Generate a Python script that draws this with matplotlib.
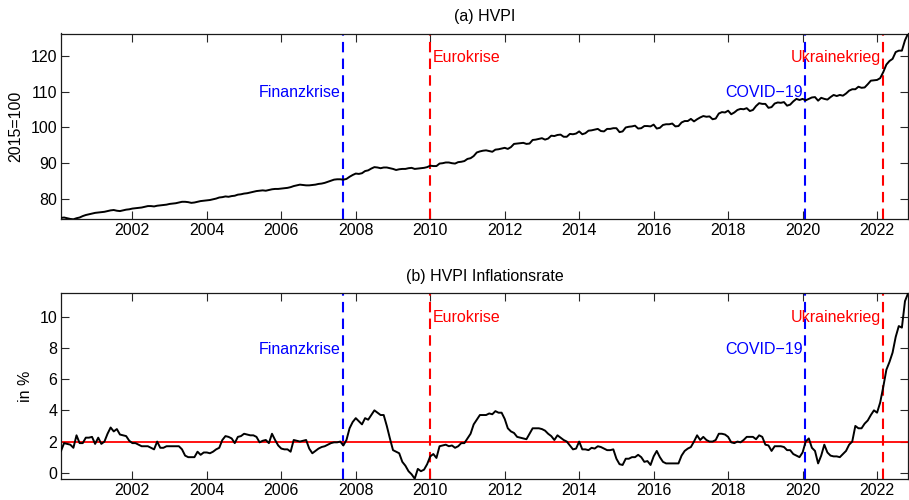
import numpy as np
import matplotlib.pyplot as plt

plt.rcParams['font.family'] = ['Liberation Sans', 'DejaVu Sans']
plt.rcParams['font.size'] = 11.5

# monthly values, Jan 2000 .. Oct 2022
hvpi = [
    74.7, 74.8, 74.6, 74.4, 74.3, 74.6, 74.8, 75.2, 75.5, 75.7, 75.9, 76.1,   # 2000
    76.2, 76.3, 76.4, 76.6, 76.8, 76.9, 76.7, 76.6, 76.8, 77.0, 77.1, 77.3,   # 2001
    77.4, 77.5, 77.6, 77.8, 78.0, 78.0, 77.9, 78.1, 78.2, 78.3, 78.4, 78.6,   # 2002
    78.7, 78.8, 79.0, 79.2, 79.2, 79.1, 78.9, 79.0, 79.2, 79.4, 79.5, 79.6,   # 2003
    79.7, 79.9, 80.1, 80.4, 80.5, 80.7, 80.6, 80.8, 80.9, 81.2, 81.3, 81.5,   # 2004
    81.6, 81.8, 82.0, 82.2, 82.3, 82.4, 82.3, 82.5, 82.7, 82.8, 82.8, 82.9,   # 2005
    83.0, 83.1, 83.3, 83.6, 83.8, 84.0, 83.9, 83.8, 83.8, 83.9, 84.0, 84.2,   # 2006
    84.3, 84.5, 84.8, 85.1, 85.4, 85.5, 85.5, 85.4, 85.6, 86.2, 86.7, 87.1,   # 2007
    87.0, 87.2, 87.8, 88.0, 88.5, 88.9, 88.8, 88.6, 88.8, 88.8, 88.6, 88.4,   # 2008
    88.1, 88.3, 88.4, 88.4, 88.6, 88.7, 88.4, 88.5, 88.6, 88.7, 88.9, 89.3,   # 2009
    89.2, 89.2, 89.9, 90.0, 90.2, 90.2, 90.0, 89.9, 90.3, 90.4, 90.6, 91.2,   # 2010
    91.4, 92.0, 93.0, 93.3, 93.5, 93.6, 93.4, 93.2, 93.8, 93.9, 94.1, 94.3,   # 2011
    94.0, 94.5, 95.4, 95.5, 95.6, 95.7, 95.4, 95.5, 96.5, 96.6, 96.8, 97.0,   # 2012
    96.6, 96.9, 97.7, 97.6, 97.9, 98.0, 97.4, 97.4, 98.2, 98.1, 98.3, 98.9,   # 2013
    98.1, 98.4, 99.1, 99.2, 99.4, 99.6, 99.0, 98.9, 99.6, 99.6, 99.8, 99.8,   # 2014
    98.7, 98.9, 100.0, 100.2, 100.3, 100.5, 99.7, 99.8, 100.4, 100.4, 100.3, 100.8,   # 2015
    99.7, 99.9, 100.7, 100.9, 100.9, 101.1, 100.3, 100.4, 101.4, 101.8, 101.8, 102.4,  # 2016
    101.7, 102.3, 102.8, 103.2, 103.0, 103.1, 102.3, 102.5, 103.9, 104.3, 104.2, 104.7,  # 2017
    103.7, 104.2, 104.9, 105.2, 105.1, 105.4, 104.6, 104.9, 106.0, 106.8, 106.6, 106.6,  # 2018
    105.5, 105.7, 106.7, 107.0, 106.9, 107.1, 106.1, 106.4, 107.3, 108.0, 107.7, 108.0,  # 2019
    107.6, 108.0, 108.4, 108.5, 107.5, 108.3, 108.0, 107.8, 108.5, 109.1, 108.8, 109.1,  # 2020
    108.9, 109.5, 110.3, 110.7, 110.7, 111.4, 111.1, 111.2, 112.1, 113.1, 113.2, 113.3,  # 2021
    113.8, 115.5, 117.6, 118.6, 119.2, 121.1, 121.5, 121.5, 124.4, 126.3,               # 2022
]

inflation = [
    1.4, 1.9, 1.85, 1.8, 1.6, 2.4, 1.9, 1.9, 2.25, 2.25, 2.3, 1.85,       # 2000
    2.25, 1.85, 2.0, 2.5, 2.9, 2.65, 2.8, 2.45, 2.4, 2.35, 2.05, 1.9,     # 2001
    1.9, 1.8, 1.7, 1.7, 1.7, 1.6, 1.5, 2.0, 1.6, 1.6, 1.7, 1.7,           # 2002
    1.7, 1.7, 1.7, 1.5, 1.1, 1.0, 1.0, 1.0, 1.35, 1.15, 1.3, 1.3,         # 2003
    1.25, 1.35, 1.5, 1.6, 2.1, 2.35, 2.3, 2.2, 1.9, 2.3, 2.35, 2.5,       # 2004
    2.45, 2.4, 2.4, 2.3, 1.95, 2.05, 2.1, 1.9, 2.5, 2.1, 1.75, 1.55,      # 2005
    1.5, 1.5, 1.35, 2.1, 2.05, 2.0, 2.05, 2.1, 1.55, 1.25, 1.4, 1.55,     # 2006
    1.65, 1.7, 1.8, 1.9, 1.95, 1.95, 2.0, 1.75, 2.1, 2.85, 3.25, 3.5,     # 2007
    3.3, 3.1, 3.5, 3.4, 3.7, 4.0, 3.85, 3.7, 3.7, 3.0, 2.2, 1.45,         # 2008
    1.35, 1.25, 0.7, 0.45, 0.1, -0.1, -0.38, 0.25, 0.1, 0.2, 0.55, 1.05,  # 2009
    1.2, 0.95, 1.7, 1.75, 1.8, 1.7, 1.75, 1.6, 1.7, 1.9, 1.9, 2.2,        # 2010
    2.5, 3.1, 3.4, 3.7, 3.7, 3.7, 3.8, 3.75, 3.95, 3.85, 3.85, 3.45,      # 2011
    2.85, 2.65, 2.55, 2.3, 2.25, 2.2, 2.15, 2.5, 2.85, 2.85, 2.85, 2.8,   # 2012
    2.7, 2.5, 2.35, 2.1, 2.4, 2.25, 2.1, 2.0, 1.75, 1.5, 1.55, 2.0,       # 2013
    1.5, 1.5, 1.45, 1.6, 1.55, 1.7, 1.65, 1.55, 1.45, 1.45, 1.5, 0.9,     # 2014
    0.55, 0.5, 0.9, 0.9, 1.0, 1.0, 1.15, 1.0, 0.7, 0.75, 0.5, 1.05,       # 2015
    1.4, 1.0, 0.7, 0.6, 0.6, 0.6, 0.6, 0.6, 1.1, 1.4, 1.55, 1.65,         # 2016
    2.0, 2.4, 2.1, 2.3, 2.1, 2.0, 2.0, 2.1, 2.5, 2.5, 2.45, 2.3,          # 2017
    1.95, 1.9, 2.0, 1.95, 2.1, 2.3, 2.3, 2.3, 2.15, 2.4, 2.3, 1.8,        # 2018
    1.75, 1.4, 1.7, 1.7, 1.7, 1.65, 1.45, 1.45, 1.2, 1.1, 1.0, 1.3,       # 2019
    2.0, 2.2, 1.6, 1.4, 0.6, 1.1, 1.8, 1.3, 1.1, 1.05, 1.05, 1.0,         # 2020
    1.2, 1.4, 1.8, 2.0, 3.0, 2.85, 2.85, 3.15, 3.35, 3.7, 4.0, 3.85,      # 2021
    4.5, 5.5, 6.6, 7.1, 7.7, 8.7, 9.4, 9.3, 11.0, 11.5,                   # 2022
]

target_rate = 2

events = ['Finanzkrise', 'Eurokrise', 'COVID\u221219', 'Ukrainekrieg']
event_dates = [2007.66, 2010.0, 2020.07, 2022.16]
event_colors = ['blue', 'red', 'blue', 'red']
event_side = ['left', 'right', 'left', 'left']   # which side of the line the label sits
event_level = ['low', 'high', 'low', 'high']

n = len(hvpi)
t = 2000 + np.arange(1, n + 1) / 12.0

fig = plt.figure(figsize=(9.09, 5.0), dpi=100)
ax1 = fig.add_axes([0.0671, 0.5614, 0.9319, 0.3716])
ax2 = fig.add_axes([0.0671, 0.0426, 0.9319, 0.3708])

panels = [
    (ax1, hvpi, '(a) HVPI', '2015=100', np.arange(80, 121, 10), {'high': 120, 'low': 110}),
    (ax2, inflation, '(b) HVPI Inflationsrate', 'in %', np.arange(0, 11, 2), {'high': 10, 'low': 8}),
]

for ax, y, title, ylab, yt, levels in panels:
    y = np.array(y)
    ax.plot(t, y, color='black', lw=1.4, zorder=3)
    ax.set_xlim(t[0], t[-1])
    ax.set_ylim(y.min(), y.max())
    for name, d, c, side, lev in zip(events, event_dates, event_colors, event_side, event_level):
        ax.axvline(d, color=c, lw=1.5, linestyle=(0, (5, 3)), zorder=2)
        off = -1.5 if side == 'left' else 2
        ax.annotate(name, xy=(d, levels[lev]), xytext=(off, -4.1), textcoords='offset points',
                    ha='right' if side == 'left' else 'left', va='baseline', color=c,
                    fontsize=11.5)
    ax.set_xticks(np.arange(2002, 2023, 2))
    ax.set_yticks(yt)
    ax.tick_params(direction='in', length=6, width=0.8, top=True, right=True,
                   colors='#262626', labelcolor='black', labelsize=11.5)
    ax.tick_params(axis='y', pad=2.7)
    ax.tick_params(axis='x', pad=3)
    for s in ax.spines.values():
        s.set_linewidth(0.9)
        s.set_color('#1a1a1a')
    ax.set_title(title, fontsize=11.5, pad=9)
    ax.set_ylabel(ylab, fontsize=11.5, labelpad=5)

ax2.axhline(target_rate, color='red', lw=1.3, zorder=2.5)

fig.savefig('out.png', dpi=100)
